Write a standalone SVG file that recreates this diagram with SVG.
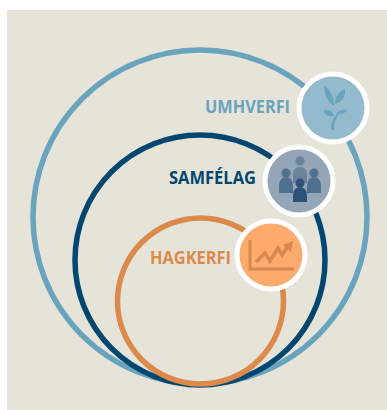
<svg xmlns="http://www.w3.org/2000/svg" width="387" height="410" viewBox="0 0 387 410">
<style>
.ring{fill:none;stroke-width:5.500}
.halo{stroke:#fff;stroke-width:5}
.lbl{font-family:"Open Sans","Liberation Sans",sans-serif;font-weight:700;font-size:18px}
</style>
<rect x="0" y="0" width="387" height="410" fill="#fff"/>
<rect x="7" y="10" width="380" height="400" fill="#e6e4d9"/>
<g id="connectors"></g>
<g id="umhverfi">
<circle class="ring" cx="200" cy="217" r="167" stroke="#69a3bc"/>
<circle class="halo" cx="333" cy="108" r="34" fill="#94bacd"/>
<text class="lbl" x="205" y="113" fill="#69a3bc" textLength="85" lengthAdjust="spacingAndGlyphs">UMHVERFI</text>
<g fill="#69a3bc">
<path d="M331 130C331 122 333 118 337 114L339 115C335 119 334 124 334 130Z"/>
<path d="M334 116C327 117 323 113 324 110C329 109 333 112 334 116Z"/>
<path d="M336 114C343 115 346 112 347 110C342 109 338 111 336 114Z"/>
<path d="M334 106C329 103 324 96 324 85C330 90 334 97 334 106Z"/>
<path d="M335 104C335 96 340 91 345 89C346 96 342 102 335 104Z"/>
</g>
</g>
<g id="samfelag">
<circle class="ring" cx="200" cy="260" r="125" stroke="#03466f"/>
<circle class="halo" cx="299" cy="181" r="34" fill="#94a5b7"/>
<text class="lbl" x="169" y="184" fill="#03466f" textLength="87" lengthAdjust="spacingAndGlyphs">SAMFÉLAG</text>
<g fill="#6b829b"><circle cx="300" cy="161" r="4.500"/><path d="M293 183V175C293 164 307 164 307 175V183Z"/></g>
<g fill="#50708f"><circle cx="286" cy="173" r="4.500"/><path d="M279 193V186C279 174 293 174 293 186V193Z"/>
<circle cx="314" cy="173" r="4.500"/><path d="M307 193V186C307 174 321 174 321 186V193Z"/></g>
<g fill="#2f5378"><circle cx="300" cy="183" r="4.500"/><path d="M293 202V196C293 184 307 184 307 196V202Z"/></g>
</g>
<g id="hagkerfi">
<circle class="ring" cx="200.500" cy="301" r="83" stroke="#dc8a4b"/>
<circle class="halo" cx="271" cy="255" r="34" fill="#fdac6e"/>
<text class="lbl" x="150" y="264" fill="#dc8a4b" textLength="81" lengthAdjust="spacingAndGlyphs">HAGKERFI</text>
<path d="M250 240V269H294" fill="none" stroke="#d9884d" stroke-width="3"/>
<path d="M256 262L265 253L270 261L278 248L282 255L288 246" fill="none" stroke="#d9884d" stroke-width="3.500"/>
<path d="M283 245L293 241L291 252Z" fill="#d9884d"/>
</g>
</svg>
